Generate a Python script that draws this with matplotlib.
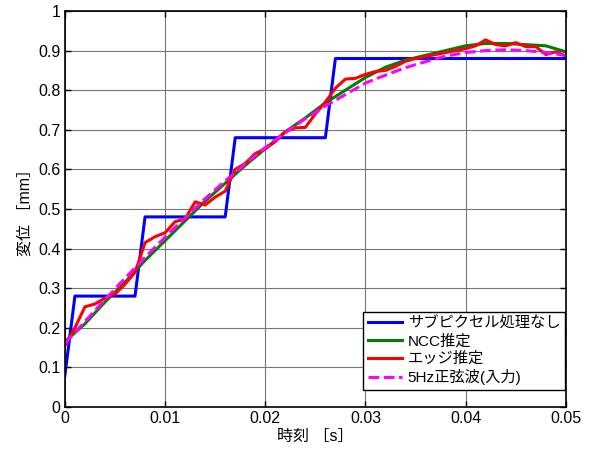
import matplotlib
matplotlib.use("Agg")
import matplotlib.pyplot as plt

plt.rcParams['font.family'] = ['Liberation Sans', 'Noto Sans CJK JP']

# Blue step (no subpixel processing)
t_step = [0.0, 0.001, 0.007, 0.008, 0.016, 0.017, 0.026, 0.027, 0.05]
y_step = [0.08, 0.28, 0.28, 0.48, 0.48, 0.68, 0.68, 0.88, 0.88]

# Smooth series at 2 ms
t_2ms = [0.000, 0.002, 0.004, 0.006, 0.008, 0.010, 0.012, 0.014, 0.016, 0.018,
         0.020, 0.022, 0.024, 0.026, 0.028, 0.030, 0.032, 0.034, 0.036, 0.038,
         0.040, 0.042, 0.044, 0.046, 0.048, 0.050]
y_ncc = [0.165, 0.21, 0.265, 0.315, 0.37, 0.42, 0.47, 0.52, 0.565, 0.61,
         0.652, 0.695, 0.73, 0.768, 0.80, 0.832, 0.858, 0.876, 0.888, 0.90,
         0.912, 0.918, 0.918, 0.915, 0.912, 0.897]
y_sine = [0.16, 0.216, 0.271, 0.325, 0.378, 0.429, 0.478, 0.526, 0.571, 0.614,
          0.655, 0.693, 0.728, 0.760, 0.789, 0.818, 0.838, 0.857, 0.872, 0.886,
          0.895, 0.900, 0.902, 0.900, 0.895, 0.888]

# Edge estimation at 1 ms
t_1ms = [i / 1000 for i in range(51)]
y_edge = [0.155, 0.20, 0.253, 0.26, 0.275, 0.285, 0.31, 0.34, 0.415, 0.43,
          0.44, 0.468, 0.475, 0.518, 0.51, 0.53, 0.545, 0.60, 0.615, 0.64,
          0.652, 0.67, 0.695, 0.705, 0.706, 0.74, 0.77, 0.805, 0.828, 0.83,
          0.84, 0.847, 0.85, 0.86, 0.873, 0.88, 0.885, 0.89, 0.895, 0.90,
          0.905, 0.912, 0.927, 0.915, 0.912, 0.92, 0.91, 0.91, 0.89, 0.897,
          0.886]

labels = ['サブピクセル処理なし', 'NCC推定', 'エッジ推定', '5Hz正弦波(入力)']

fig = plt.figure(figsize=(5.9, 4.5), dpi=100)
ax = fig.add_axes([0.110, 0.0956, 0.849, 0.880])

lw = 2.2
ax.plot(t_step, y_step, color='#0000ff', lw=lw, label=labels[0])
ax.plot(t_2ms, y_ncc, color='#008000', lw=lw, label=labels[1])
ax.plot(t_1ms, y_edge, color='#ff0000', lw=lw, label=labels[2])
ax.plot(t_2ms, y_sine, color='#ff00ff', lw=lw, ls=(0, (3.5, 1.5)), label=labels[3])

ax.set_xlim(0, 0.05)
ax.set_ylim(0, 1)
ax.set_xticks([0, 0.01, 0.02, 0.03, 0.04, 0.05])
ax.set_xticklabels(['0', '0.01', '0.02', '0.03', '0.04', '0.05'])
ax.set_yticks([i / 10 for i in range(11)])
ax.set_yticklabels(['0', '0.1', '0.2', '0.3', '0.4', '0.5', '0.6', '0.7', '0.8', '0.9', '1'])
ax.grid(True, color='#777777', lw=0.8)
ax.set_axisbelow(True)
ax.tick_params(direction='in', top=True, right=True, length=4, labelsize=11.5, width=1, pad=3)
for s in ax.spines.values():
    s.set_linewidth(1.2)

ax.set_xlabel('時刻 ［s］', fontsize=11.5, labelpad=2)
ax.set_ylabel('変位 ［mm］', fontsize=11.5, labelpad=4)

leg = ax.legend(loc='lower right', bbox_to_anchor=(0.998, 0.043), borderaxespad=0,
                fontsize=11, handlelength=2.2, labelspacing=0.22, handletextpad=0.4,
                borderpad=0.3, fancybox=False, framealpha=1, edgecolor='black')
leg.get_frame().set_linewidth(1.0)

fig.savefig('out.png', dpi=100)
